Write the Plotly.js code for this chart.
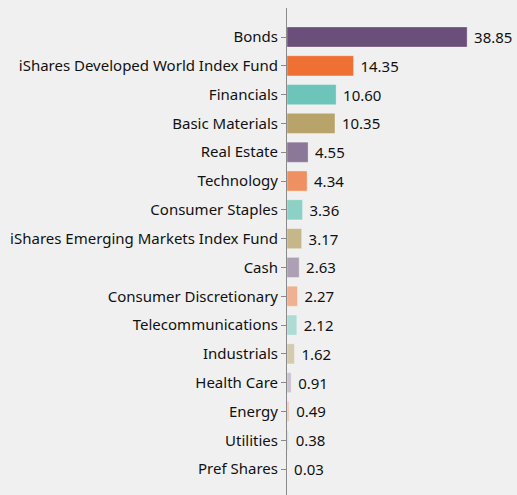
<!DOCTYPE html>
<html>
<head>
<meta charset="utf-8">
<script src="https://cdn.plot.ly/plotly-3.0.1.min.js"></script>
<style>
html,body{margin:0;padding:0;background:#f0f0f0;}
#chart{width:517px;height:495px;}
</style>
</head>
<body>
<div id="chart"></div>
<script>
const categories = ["Bonds","iShares Developed World Index Fund","Financials","Basic Materials","Real Estate","Technology","Consumer Staples","iShares Emerging Markets Index Fund","Cash","Consumer Discretionary","Telecommunications","Industrials","Health Care","Energy","Utilities","Pref Shares"];
const values = [38.85,14.35,10.60,10.35,4.55,4.34,3.36,3.17,2.63,2.27,2.12,1.62,0.91,0.49,0.38,0.03];

const baseColors = [[106,79,122],[238,113,51],[108,197,184],[184,164,106]];
const alphas = [1,0.75,0.5,0.28];
const colors = categories.map((c,i)=>{
  const b = baseColors[i%4], a = alphas[Math.floor(i/4)];
  return `rgba(${b[0]},${b[1]},${b[2]},${a})`;
});

const trace = {
  type:'bar', orientation:'h',
  x: values, y: categories,
  marker:{color:colors, line:{color:'rgba(255,255,255,0.35)', width:1}},
  width:0.7,
  text: values.map(v=>v.toFixed(2)),
  texttemplate:' %{text}',
  textposition:'outside',
  cliponaxis:false,
  textfont:{family:'Noto Sans, sans-serif', size:15, color:'#111111'},
  hoverinfo:'none'
};

const layout = {
  width:517, height:495,
  paper_bgcolor:'#f0f0f0', plot_bgcolor:'#f0f0f0',
  margin:{l:287, r:0, t:8, b:0},
  showlegend:false,
  font:{family:'Noto Sans, sans-serif', size:15, color:'#111111'},
  xaxis:{range:[0,49.6], visible:false, fixedrange:true},
  yaxis:{
    type:'category', categoryorder:'array', categoryarray:categories,
    range:[15.9,-1.007],
    showline:true, linecolor:'#8a8a8a', linewidth:1,
    ticks:'outside', ticklen:5, tickcolor:'#8a8a8a', tickwidth:1,
    showgrid:false, zeroline:false,
    tickfont:{family:'Noto Sans, sans-serif', size:15, color:'#111111'},
    ticklabelstandoff:0
  },
  shapes:[{type:'line', xref:'x', xsizemode:'pixel', xanchor:0, x0:-5, x1:0,
           yref:'paper', y0:1, y1:1, line:{color:'#8a8a8a', width:1}}]
};

Plotly.newPlot('chart',[trace],layout,{displayModeBar:false, staticPlot:true});
</script>
</body>
</html>
